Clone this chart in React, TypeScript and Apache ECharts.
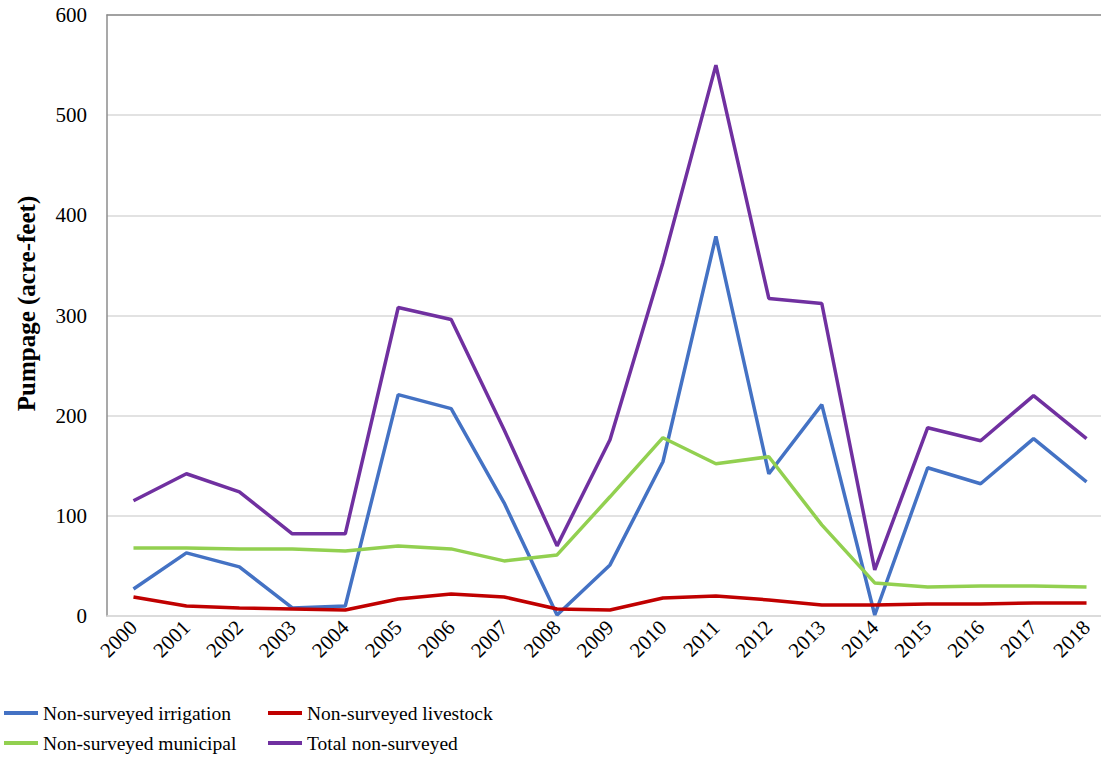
import React, { useEffect, useRef } from "react";
import * as echarts from "echarts";

const years = ["2000","2001","2002","2003","2004","2005","2006","2007","2008","2009","2010","2011","2012","2013","2014","2015","2016","2017","2018"];
const irrigation = [27, 63, 49, 8, 10, 221, 207, 113, 1, 51, 154, 379, 142, 211, 1, 148, 132, 177, 134];
const livestock = [19, 10, 8, 7, 6, 17, 22, 19, 7, 6, 18, 20, 16, 11, 11, 12, 12, 13, 13];
const municipal = [68, 68, 67, 67, 65, 70, 67, 55, 61, 119, 178, 152, 159, 91, 33, 29, 30, 30, 29];
const total = [115, 142, 124, 82, 82, 308, 296, 186, 70, 176, 353, 550, 317, 312, 46, 188, 175, 220, 177];
const yTicks = { min: 0, max: 600, interval: 100 };

const FONT = "'Liberation Serif', serif";

export default function App() {
  const ref = useRef<HTMLDivElement>(null);
  useEffect(() => {
    if (!ref.current) return;
    const chart = echarts.init(ref.current, null, { renderer: "svg" });
    const mk = (name: string, data: number[], color: string) => ({
      name,
      type: "line",
      data,
      showSymbol: false,
      symbol: "none",
      lineStyle: { color, width: 3.5 },
      itemStyle: { color },
      z: 3,
    });
    const legendCommon = {
      orient: "vertical",
      icon: "rect",
      itemWidth: 34,
      itemHeight: 4,
      itemGap: 10,
      padding: 0,
      height: 100,
      textStyle: { fontFamily: FONT, fontSize: 19.5, color: "#000" },
    };
    chart.setOption({
      animation: false,
      backgroundColor: "#fff",
      grid: { left: 107, top: 15, bottom: 141, right: -12, containLabel: false, outerBoundsMode: "none" },
      xAxis: [
        {
          type: "category",
          data: years,
          boundaryGap: true,
          axisLine: { lineStyle: { color: "#D9D9D9", width: 1.5 } },
          axisTick: { show: false },
          axisLabel: { rotate: 45, fontFamily: FONT, fontSize: 21, color: "#000", margin: 8, interval: 0 },
        },
        {
          type: "category",
          data: years,
          position: "top",
          axisLine: { show: true, lineStyle: { color: "#8C8C8C", width: 1.5 } },
          axisTick: { show: false },
          axisLabel: { show: false },
        },
      ],
      yAxis: {
        type: "value",
        min: yTicks.min,
        max: yTicks.max,
        interval: yTicks.interval,
        name: "Pumpage (acre-feet)",
        nameLocation: "middle",
        nameGap: 68,
        nameTextStyle: { fontFamily: FONT, fontSize: 25, fontWeight: "bold", color: "#000", padding: [0, 0, 0, 24] },
        axisLine: { show: true, lineStyle: { color: "#8C8C8C", width: 1.5 } },
        axisTick: { show: false },
        axisLabel: { fontFamily: FONT, fontSize: 21, color: "#000", margin: 20 },
        splitLine: { lineStyle: { color: "#D9D9D9", width: 1.5 } },
      },
      legend: [
        { ...legendCommon, left: 4, top: 703, data: ["Non-surveyed irrigation", "Non-surveyed municipal"] },
        { ...legendCommon, left: 268, top: 703, data: ["Non-surveyed livestock", "Total non-surveyed"] },
      ],
      series: [
        mk("Non-surveyed irrigation", irrigation, "#4472C4"),
        mk("Non-surveyed livestock", livestock, "#C00000"),
        mk("Non-surveyed municipal", municipal, "#92D050"),
        mk("Total non-surveyed", total, "#7030A0"),
      ],
    });
    return () => chart.dispose();
  }, []);
  return <div ref={ref} style={{ width: 1101, height: 757, position: "fixed", left: 0, top: 0 }} />;
}
